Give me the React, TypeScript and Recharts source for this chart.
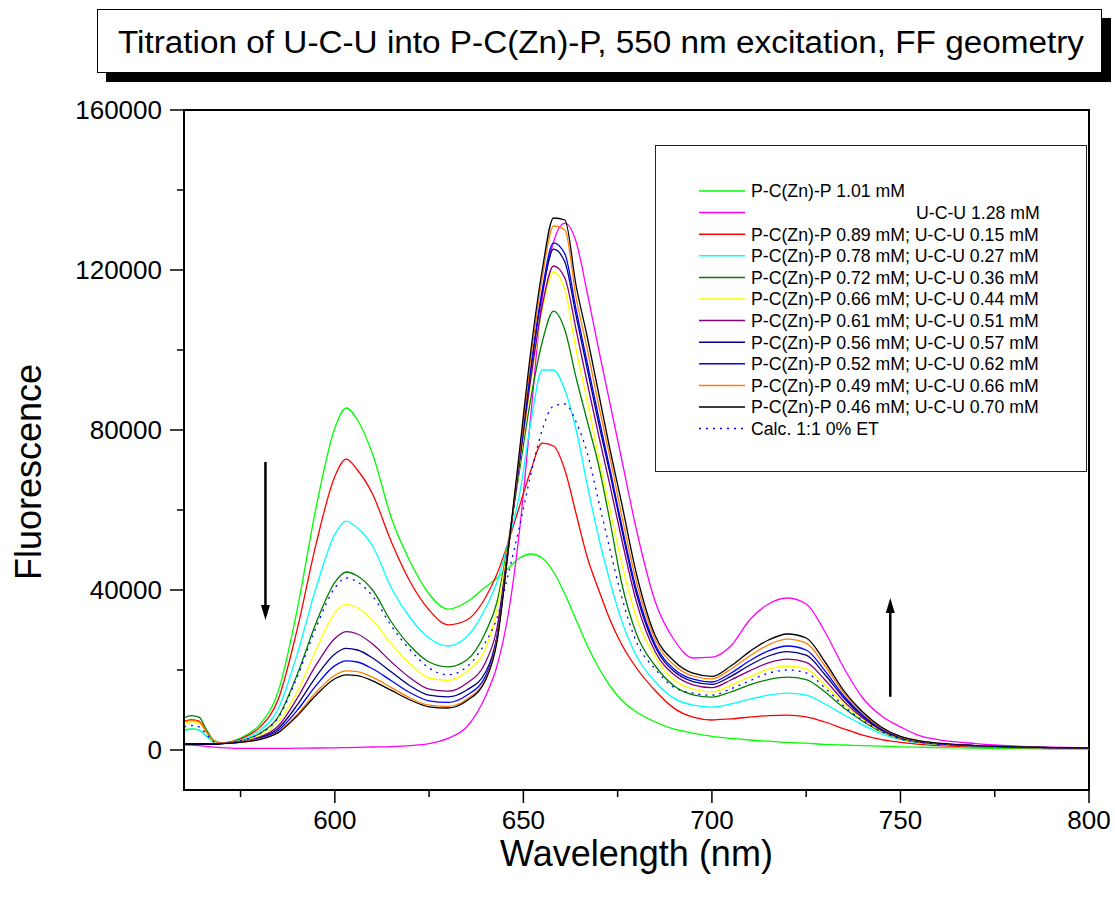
import React from 'react';
import { LineChart, Line, XAxis, YAxis, ReferenceArea, ReferenceLine } from 'recharts';

// wavelength grid (nm)
const WAVELENGTHS = [
  560, 562, 564, 566, 568, 570, 575, 580, 585, 590, 595, 600,
  603, 606, 610, 615, 620, 625, 630, 635, 640, 643, 646, 649,
  652, 655, 658, 661, 664, 667, 670, 673, 676, 680, 685, 690,
  695, 700, 705, 710, 715, 720, 725, 730, 735, 740, 745, 750,
  755, 760, 770, 780, 790, 800,
];

const PCZNP_101 = [
  5000, 5300, 5000, 3500, 2000, 1700, 3000, 6300, 14700, 35000, 60500, 80500,
  85500, 82500, 74000, 58000, 47000, 39000, 35200, 37000, 40800, 43000, 45500, 48000,
  49000, 48000, 44500, 39000, 32500, 26000, 20500, 16000, 12500, 9500, 7000, 5200,
  4200, 3400, 2900, 2500, 2200, 1900, 1700, 1400, 1250, 1100, 950, 800,
  700, 600, 450, 350, 250, 200,
];
const UCU_128 = [
  1300, 1200, 1100, 900, 700, 600, 400, 400, 400, 450, 500, 550,
  600, 650, 750, 850, 1100, 1600, 2900, 5800, 13500, 21000, 34000, 55000,
  84000, 113000, 127000, 131700, 127000, 114000, 100000, 86500, 73000, 55000, 37000, 27500,
  23000, 23200, 26000, 32500, 36500, 38000, 36500, 29500, 20500, 13000, 8500, 5800,
  3600, 2600, 1600, 1000, 700, 500,
];
const MIX_089 = [
  7200, 7600, 7200, 4500, 2200, 1800, 2800, 5600, 12700, 30100, 51400, 68400,
  72700, 70000, 64000, 52000, 42000, 35000, 31300, 32500, 38200, 44000, 52000, 61000,
  70000, 76700, 76000, 70000, 59000, 48000, 40000, 32500, 26500, 20500, 14800, 10400,
  8200, 7500, 7800, 8200, 8600, 8700, 8300, 7000, 5300, 3700, 2600, 1900,
  1400, 1100, 800, 600, 500, 400,
];
const MIX_078 = [
  4800, 5200, 5000, 3400, 1900, 1700, 2500, 4800, 10300, 23900, 40500, 53900,
  57200, 55500, 51000, 40500, 33000, 28000, 26000, 28300, 35500, 42000, 52000, 64000,
  82000, 95000, 95000, 90000, 80000, 66000, 53000, 42000, 32500, 23500, 17000, 12900,
  11200, 10700, 11500, 12700, 13700, 14200, 13700, 11500, 8800, 6300, 4000, 2600,
  1800, 1400, 1000, 700, 550, 450,
];
const MIX_072 = [
  8000, 8600, 8200, 5000, 2300, 1800, 2300, 4100, 8300, 18800, 31700, 41900,
  44500, 43500, 40000, 32000, 26000, 22000, 20800, 22500, 29500, 37000, 52000, 70000,
  88000, 102000, 109700, 105000, 93000, 82000, 71000, 57000, 42000, 29000, 21000, 16000,
  13800, 13200, 14500, 16300, 17600, 18200, 17600, 14500, 10500, 7200, 4500, 2800,
  1900, 1450, 1100, 800, 600, 500,
];
const MIX_066 = [
  6700, 7100, 6800, 4300, 2100, 1700, 2200, 3600, 7100, 14500, 25000, 34300,
  36400, 35500, 32500, 26500, 21500, 18000, 17400, 19600, 25500, 35000, 51500, 71500,
  92000, 110000, 119500, 115000, 100000, 87000, 73000, 60000, 47000, 33000, 23300, 17500,
  15200, 14500, 16200, 18300, 20200, 21000, 20300, 16300, 11500, 7700, 4700, 2900,
  2000, 1500, 1100, 800, 600, 500,
];
const MIX_061 = [
  1500, 1500, 1500, 1500, 1500, 1600, 2100, 3200, 6000, 12900, 21200, 27900,
  29600, 29000, 26500, 22000, 18000, 15200, 14700, 16700, 22000, 30500, 51000, 72000,
  93000, 111000, 121000, 118000, 105000, 91500, 78500, 66000, 53000, 37000, 24500, 18800,
  16300, 15600, 17500, 19800, 21800, 22700, 21900, 17500, 12200, 8000, 4900, 3000,
  2050, 1550, 1100, 800, 600, 500,
];
const MIX_056 = [
  1500, 1500, 1500, 1500, 1500, 1600, 2000, 3000, 5400, 11200, 18300, 24000,
  25400, 25000, 23000, 19500, 16000, 13700, 13300, 15000, 19500, 28500, 50500, 72500,
  95000, 114000, 125200, 122000, 108500, 95000, 81500, 69000, 55500, 39000, 25700, 19600,
  17100, 16400, 18400, 21200, 23500, 24600, 23700, 18800, 13000, 8400, 5100, 3100,
  2100, 1600, 1100, 800, 600, 500,
];
const MIX_052 = [
  1500, 1500, 1500, 1500, 1500, 1600, 2000, 2800, 4900, 9900, 16100, 21100,
  22300, 22000, 20300, 17300, 14300, 12300, 11900, 13700, 18500, 28000, 50000, 73000,
  96000, 115000, 126800, 124000, 110000, 96500, 83000, 70000, 56500, 40000, 26300, 20200,
  17700, 17000, 19200, 22300, 24800, 26000, 25000, 19800, 13500, 8700, 5300, 3200,
  2200, 1600, 1100, 800, 600, 500,
];
const MIX_049 = [
  7000, 7400, 7000, 4400, 2200, 1800, 2000, 2700, 4500, 8900, 14400, 18700,
  19800, 19600, 18200, 15600, 13000, 11200, 10900, 12700, 17800, 27500, 50000, 74000,
  98000, 118000, 131000, 130000, 113000, 100000, 86000, 73000, 59000, 42000, 27500, 21200,
  18500, 17800, 20200, 23500, 26300, 27700, 26700, 21000, 14200, 9100, 5500, 3300,
  2250, 1650, 1100, 800, 600, 500,
];
const MIX_046 = [
  1500, 1500, 1500, 1500, 1500, 1600, 1950, 2600, 4350, 8500, 13700, 17800,
  18800, 18600, 17300, 14900, 12500, 10800, 10500, 12300, 17500, 27000, 50000, 75000,
  100000, 120000, 133000, 132500, 116000, 103000, 89000, 75000, 62000, 44000, 28500, 22200,
  19200, 18400, 21000, 24600, 27500, 29000, 28000, 22000, 14800, 9500, 5700, 3400,
  2300, 1700, 1100, 800, 600, 500,
];
const CALC_11 = [
  5800, 6100, 5800, 3900, 2000, 1700, 2300, 4000, 8100, 18200, 30600, 40500,
  43000, 42000, 38500, 31000, 25000, 20500, 18800, 20800, 27000, 33000, 44000, 56000,
  69000, 80000, 86000, 86500, 82000, 74000, 62000, 50000, 38500, 27000, 20200, 15600,
  14200, 13700, 15300, 17300, 19200, 20000, 19300, 15500, 11000, 7400, 4600, 2800,
  1950, 1500, 1100, 800, 600, 500,
];

const X_TICKS = [575, 600, 625, 650, 675, 700, 725, 750, 775, 800];
const Y_TICKS = [0, 20000, 40000, 60000, 80000, 100000, 120000, 140000, 160000];

const SERIES = [
  { key: 's1', name: 'P-C(Zn)-P 1.01 mM', color: '#00FF00', values: PCZNP_101 },
  { key: 's2', name: 'U-C-U 1.28 mM', color: '#FF00FF', values: UCU_128 },
  { key: 's3', name: 'P-C(Zn)-P 0.89 mM; U-C-U 0.15 mM', color: '#FF0000', values: MIX_089 },
  { key: 's4', name: 'P-C(Zn)-P 0.78 mM; U-C-U 0.27 mM', color: '#00FFFF', values: MIX_078 },
  { key: 's5', name: 'P-C(Zn)-P 0.72 mM; U-C-U 0.36 mM', color: '#008000', values: MIX_072 },
  { key: 's6', name: 'P-C(Zn)-P 0.66 mM; U-C-U 0.44 mM', color: '#FFFF00', values: MIX_066 },
  { key: 's7', name: 'P-C(Zn)-P 0.61 mM; U-C-U 0.51 mM', color: '#800080', values: MIX_061 },
  { key: 's8', name: 'P-C(Zn)-P 0.56 mM; U-C-U 0.57 mM', color: '#000080', values: MIX_056 },
  { key: 's9', name: 'P-C(Zn)-P 0.52 mM; U-C-U 0.62 mM', color: '#0000FF', values: MIX_052 },
  { key: 's10', name: 'P-C(Zn)-P 0.49 mM; U-C-U 0.66 mM', color: '#FF8000', values: MIX_049 },
  { key: 's11', name: 'P-C(Zn)-P 0.46 mM; U-C-U 0.70 mM', color: '#000000', values: MIX_046 },
  { key: 's12', name: 'Calc. 1:1 0% ET', color: '#0000FF', values: CALC_11, dash: '2 5' },
];

const data = WAVELENGTHS.map((w, i) => {
  const row: Record<string, number> = { w };
  SERIES.forEach((s) => {
    row[s.key] = s.values[i];
  });
  return row;
});

const FONT = '"Liberation Sans", Arial, sans-serif';

const XTick = ({ x, y, payload }: any) => {
  const major = payload.value % 50 === 0;
  return (
    <g>
      <line x1={x} x2={x} y1={y} y2={y + (major ? 13 : 7)} stroke="#000" strokeWidth={1.5} />
      {major && (
        <text x={x} y={y + 39} textAnchor="middle" fontSize={26} fontFamily={FONT} fill="#000">
          {payload.value}
        </text>
      )}
    </g>
  );
};

const YTick = ({ x, y, payload }: any) => {
  const major = payload.value % 40000 === 0;
  return (
    <g>
      <line x1={x} x2={x - (major ? 14 : 7)} y1={y} y2={y} stroke="#000" strokeWidth={1.5} />
      {major && (
        <text x={x - 22} y={y} dy="0.36em" textAnchor="end" fontSize={26} fontFamily={FONT} fill="#000">
          {payload.value}
        </text>
      )}
    </g>
  );
};

const Arrow = ({ x1, y1, x2, y2 }: any) => {
  const dir = y2 > y1 ? 1 : -1;
  const head = 15;
  return (
    <g>
      <line x1={x1} y1={y1} x2={x2} y2={y2 - dir * head} stroke="#000" strokeWidth={2.5} />
      <polygon
        points={`${x2 - 4.5},${y2 - dir * head} ${x2 + 4.5},${y2 - dir * head} ${x2},${y2}`}
        fill="#000"
      />
    </g>
  );
};

export default function App() {
  return (
    <div style={{ position: 'absolute', left: 0, top: 0, width: 1115, height: 900, background: '#fff', fontFamily: FONT }}>
      <LineChart width={1115} height={900} data={data} margin={{ top: 110, right: 26, bottom: 70, left: 0 }}>
        <XAxis
          dataKey="w"
          type="number"
          domain={[560, 800]}
          ticks={X_TICKS}
          interval={0}
          height={40}
          tickLine={false}
          tickSize={0}
          tickMargin={0}
          tick={<XTick />}
          axisLine={{ stroke: '#000', strokeWidth: 2 }}
          allowDataOverflow
          label={{
            content: (p: any) => (
              <text x={p.viewBox.x + p.viewBox.width / 2} y={866} textAnchor="middle" fontSize={36} fontFamily={FONT} fill="#000">
                Wavelength (nm)
              </text>
            ),
          }}
        />
        <YAxis
          type="number"
          domain={[-10000, 160000]}
          ticks={Y_TICKS}
          interval={0}
          width={184}
          tickLine={false}
          tickSize={0}
          tickMargin={0}
          tick={<YTick />}
          axisLine={{ stroke: '#000', strokeWidth: 2 }}
          allowDataOverflow
          label={{
            content: () => (
              <text x={41} y={472} transform="rotate(-90 41 472)" textAnchor="middle" fontSize={36} fontFamily={FONT} fill="#000">
                Fluorescence
              </text>
            ),
          }}
        />
        <ReferenceArea x1={560} x2={800} y1={-10000} y2={160000} fill="none" stroke="#000" strokeWidth={2} ifOverflow="visible" />
        {SERIES.map((s) => (
          <Line
            key={s.key}
            type="monotone"
            dataKey={s.key}
            name={s.name}
            stroke={s.color}
            strokeWidth={1.3}
            strokeDasharray={s.dash}
            dot={false}
            activeDot={false}
            isAnimationActive={false}
          />
        ))}
        <ReferenceLine segment={[{ x: 581.6, y: 72000 }, { x: 581.6, y: 32500 }]} ifOverflow="visible" shape={<Arrow />} />
        <ReferenceLine segment={[{ x: 747.3, y: 13300 }, { x: 747.3, y: 38000 }]} ifOverflow="visible" shape={<Arrow />} />
      </LineChart>

      {/* title box with drop shadow */}
      <div
        style={{
          position: 'absolute',
          left: 97,
          top: 9,
          width: 1003,
          height: 62,
          border: '1px solid #000',
          boxShadow: '9px 9px 0 #000',
          background: '#fff',
        }}
      >
        <svg width={1003} height={62} style={{ display: 'block' }}>
          <text x={20} y={43} fontSize={31} fontFamily={FONT} textLength={966} lengthAdjust="spacingAndGlyphs" fill="#000">
            Titration of U-C-U into P-C(Zn)-P, 550 nm excitation, FF geometry
          </text>
        </svg>
      </div>

      {/* legend */}
      <div
        style={{
          position: 'absolute',
          left: 655,
          top: 145,
          width: 430,
          height: 325,
          border: '1.5px solid #222',
          background: '#fff',
        }}
      >
        <svg width={430} height={325} style={{ display: 'block' }}>
          {SERIES.map((s, i) => {
            const y = 45 + i * 21.6;
            const isUcu = s.key === 's2';
            return (
              <g key={s.key}>
                <line x1={43} x2={89} y1={y} y2={y} stroke={s.color} strokeWidth={1.5} strokeDasharray={s.dash} />
                <text x={isUcu ? 260 : 95} y={y} dy="0.36em" fontSize={17.7} fontFamily={FONT} fill="#000">
                  {s.name}
                </text>
              </g>
            );
          })}
        </svg>
      </div>
    </div>
  );
}
